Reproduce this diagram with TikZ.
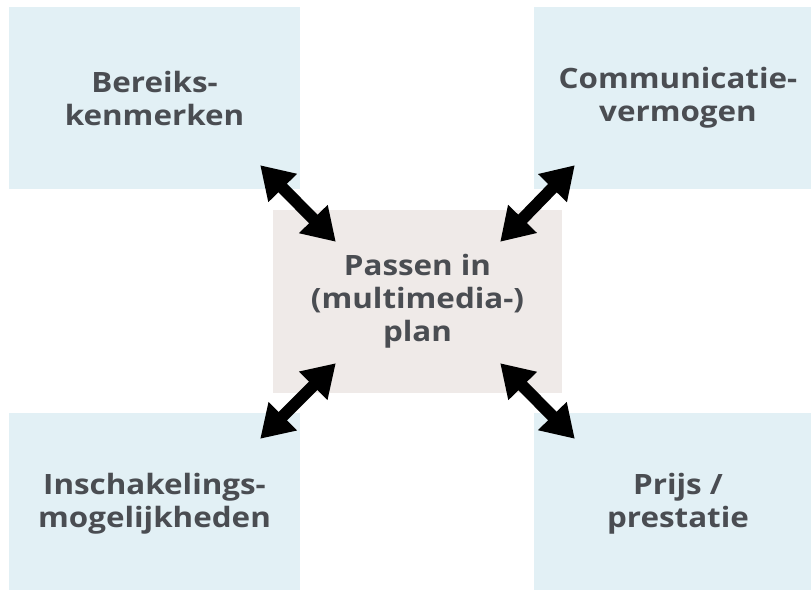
\documentclass[tikz,border=0pt]{standalone}
\usepackage{fontspec}
\setmainfont{Open Sans}[FakeStretch=1.12]
\usetikzlibrary{arrows.meta}
\definecolor{boxblue}{RGB}{226,240,245}
\definecolor{boxgrey}{RGB}{239,234,232}
\definecolor{txtgrey}{RGB}{74,77,82}
\tikzset{
  factor/.style={fill=boxblue, inner sep=0pt, align=center, text=txtgrey,
                 font=\fontsize{28}{33}\selectfont\bfseries},
  dblarrow/.style={line width=12pt, {Triangle[length=32pt,width=38pt]}-{Triangle[length=32pt,width=38pt]}}
}
\begin{document}
\begin{tikzpicture}[x=1pt, y=-1pt]
  \clip (0,0) rectangle (811,589);
  \fill[white] (0,0) rectangle (811,589);

  % the four factors in the corners
  \node[factor, minimum width=291pt, minimum height=182pt] (bereik) at (154.5,98) {Bereiks-\\kenmerken};
  \node[factor, minimum width=288pt, minimum height=182pt] (comm) at (678,98) {Communicatie-\\vermogen};
  \node[factor, minimum width=291pt, minimum height=182pt] (insch) at (154.5,504) {Inschakelings-\\mogelijkheden};
  \node[factor, minimum width=288pt, minimum height=182pt] (prijs) at (678,504) {Prijs /\\prestatie};

  % the plan in the middle
  \node[factor, fill=boxgrey, minimum width=289pt, minimum height=183pt] (plan) at (417.5,301.5)
       {Passen in\\(multimedia-)\\plan};

  % arrows between the corners and the plan
  \draw[dblarrow] ([shift={(-40,-24)}]bereik.south east) -- ([shift={(63,32)}]plan.north west);
  \draw[dblarrow] ([shift={(41,-24)}]comm.south west) -- ([shift={(-62,32)}]plan.north east);
  \draw[dblarrow] ([shift={(-40,26)}]insch.north east) -- ([shift={(63,-30)}]plan.south west);
  \draw[dblarrow] ([shift={(41,26)}]prijs.north west) -- ([shift={(-62,-30)}]plan.south east);
\end{tikzpicture}
\end{document}
